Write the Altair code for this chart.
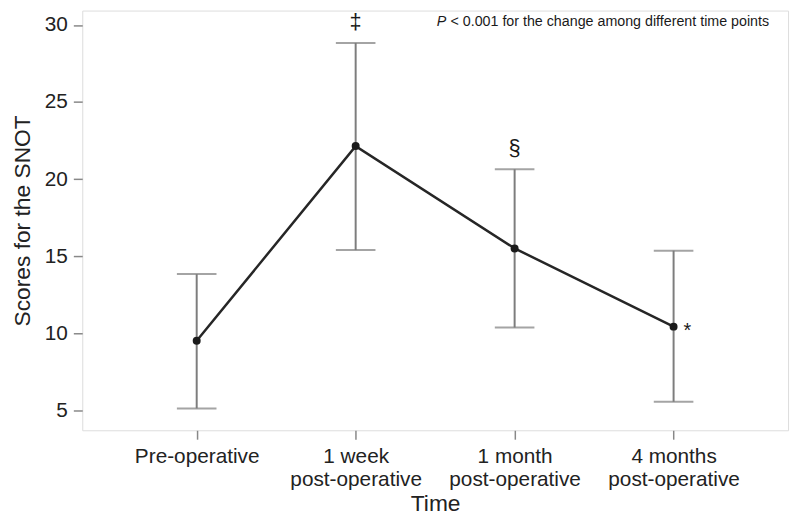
import altair as alt
import pandas as pd

categories = ["Pre-operative", "1 week\npost-operative", "1 month\npost-operative", "4 months\npost-operative"]
means = [9.5, 22.14, 15.5, 10.42]
lower = [5.11, 15.39, 10.36, 5.54]
upper = [13.83, 28.84, 20.64, 15.35]
above_marks = ["", "\u2021", "\u00a7", ""]
side_marks = ["", "", "", "*"]

df = pd.DataFrame({
    "time": categories, "mean": means, "lower": lower, "upper": upper,
    "above": above_marks, "side": side_marks,
})

FONT = "Liberation Sans"
xenc = alt.X("time:N", sort=categories, title="Time",
             scale=alt.Scale(type="point", padding=0.72),
             axis=alt.Axis(labelAngle=0, labelExpr="split(datum.label, '\\n')",
                           labelFontSize=21, labelLineHeight=23, labelPadding=7,
                           tickSize=9, titleFontSize=23, titlePadding=3,
                           domain=False, labelColor="#222", titleColor="#222",
                           titleFontWeight="normal", tickColor="#888", tickWidth=1.5))
yscale = alt.Scale(domain=[3.69, 30.94], nice=False, zero=False)
yaxis = alt.Axis(values=[5, 10, 15, 20, 25, 30], labelFontSize=21, labelPadding=6,
                 tickSize=9, titleFontSize=23, titlePadding=10, domain=False,
                 grid=False, labelColor="#222", titleColor="#222",
                 titleFontWeight="normal", tickColor="#888", tickWidth=1.5)

base = alt.Chart(df)

rule = base.mark_rule(color="#7d7d7d", strokeWidth=2).encode(
    x=xenc, y=alt.Y("lower:Q", scale=yscale, axis=yaxis, title="Scores for the SNOT"),
    y2="upper:Q")
cap_lo = base.mark_tick(color="#7d7d7d", size=40, thickness=2).encode(
    x=alt.X("time:N", sort=categories), y="lower:Q")
cap_hi = base.mark_tick(color="#7d7d7d", size=40, thickness=2).encode(
    x=alt.X("time:N", sort=categories), y="upper:Q")
line = base.mark_line(color="#262626", strokeWidth=2.5).encode(
    x=alt.X("time:N", sort=categories), y="mean:Q")
pts = base.mark_point(filled=True, color="#1a1a1a", size=65, opacity=1).encode(
    x=alt.X("time:N", sort=categories), y="mean:Q")
sym_above = base.mark_text(font=FONT, fontSize=22, dy=-21, color="#1a1a1a").encode(
    x=alt.X("time:N", sort=categories), y="upper:Q", text="above:N")
sym_side = base.mark_text(font=FONT, fontSize=20, dx=14, dy=4, color="#1a1a1a").encode(
    x=alt.X("time:N", sort=categories), y="mean:Q", text="side:N")

note_df = pd.DataFrame({"p": ["P"], "rest": ["< 0.001 for the change among different time points"]})
note_p = alt.Chart(note_df).mark_text(font=FONT, fontSize=14.4, fontStyle="italic",
                                      align="left", baseline="middle", color="#1a1a1a").encode(
    x=alt.value(358), y=alt.value(12), text="p:N")
note_rest = alt.Chart(note_df).mark_text(font=FONT, fontSize=14.4, align="left",
                                         baseline="middle", color="#1a1a1a").encode(
    x=alt.value(372), y=alt.value(12), text="rest:N")

chart = alt.layer(rule, cap_lo, cap_hi, line, pts, sym_above, sym_side, note_p, note_rest).properties(
    width=713, height=424,
    autosize=alt.AutoSizeParams(type="none"),
    padding={"left": 75, "top": 0, "right": 4, "bottom": 85},
).configure_view(stroke="#8a8a8a", strokeWidth=1.5).configure_axis(
    labelFont=FONT, titleFont=FONT
).configure(background="white")

chart.save("out.html", embed_options={"renderer": "svg", "actions": False})
